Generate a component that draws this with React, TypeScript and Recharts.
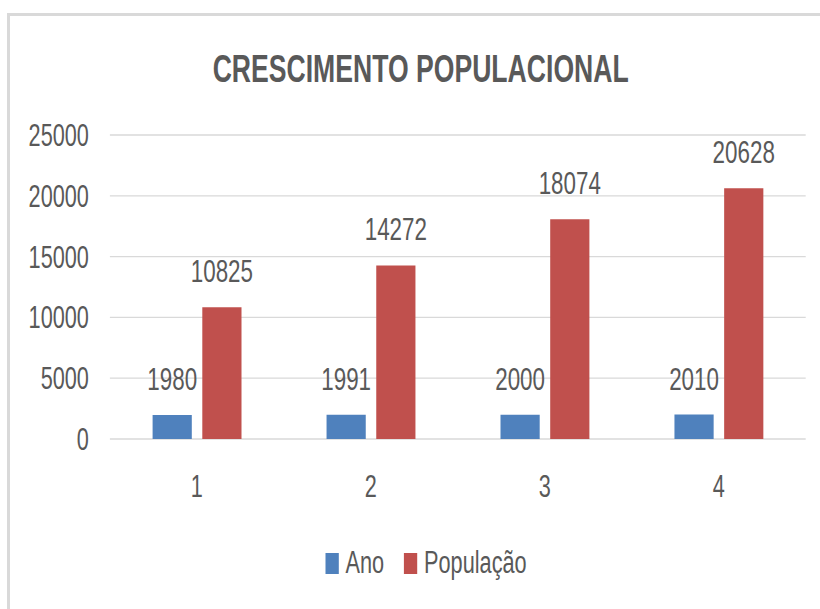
import { BarChart, Bar, XAxis, YAxis, CartesianGrid, Legend, LabelList } from "recharts"

const categorias = ["1", "2", "3", "4"]
const ano = [1980, 1991, 2000, 2010]
const populacao = [10825, 14272, 18074, 20628]
const yTicks = [0, 5000, 10000, 15000, 20000, 25000]

const COR_ANO = "#4F81BD"
const COR_POP = "#C0504D"
const TEXTO = "#595959"
const FONTE = "'Liberation Sans', Arial, sans-serif"

// the reference is squeezed sideways, so the chart is drawn wider and scaled back
const SQUEEZE = 0.7
const W = 1171
const H = 609

const data = categorias.map((c, i) => ({
  cat: c,
  Ano: ano[i],
  "População": populacao[i]
}))

function Legenda() {
  const items = [
    { name: "Ano", color: COR_ANO },
    { name: "População", color: COR_POP }
  ]
  return (
    <div
      style={{
        display: "flex",
        justifyContent: "center",
        paddingLeft: 46,
        height: 60,
        fontFamily: FONTE,
        fontSize: 31,
        color: TEXTO
      }}
    >
      {items.map((it, i) => (
        <div
          key={it.name}
          style={{ display: "flex", alignItems: "center", marginLeft: i ? 28 : 0, height: 28 }}
        >
          <span style={{ width: 19, height: 21, background: it.color, marginRight: 10, display: "inline-block" }} />
          <span>{it.name}</span>
        </div>
      ))}
    </div>
  )
}

export default function App() {
  return (
    <div style={{ position: "absolute", left: 0, top: 0, width: 820, height: H, background: "#fff", overflow: "hidden" }}>
      <div
        style={{
          position: "absolute",
          left: 7,
          top: 13,
          width: 830,
          height: 620,
          borderTop: "3px solid #d9d9d9",
          borderLeft: "3px solid #d9d9d9"
        }}
      />
      <div style={{ position: "absolute", left: 0, top: 0, transform: `scaleX(${SQUEEZE})`, transformOrigin: "0 0" }}>
        <BarChart
          width={W}
          height={H}
          data={data}
          margin={{ top: 135, right: 20, bottom: 0, left: 0 }}
          barCategoryGap={61}
          barGap={15}
        >
          <text
            x={601}
            y={82}
            textAnchor="middle"
            fontFamily={FONTE}
            fontSize={38}
            fontWeight="bold"
            fill={TEXTO}
          >
            CRESCIMENTO POPULACIONAL
          </text>
          <CartesianGrid vertical={false} stroke="#d9d9d9" strokeWidth={1.3} />
          <XAxis
            dataKey="cat"
            axisLine={false}
            tickLine={false}
            tickSize={0}
            tickMargin={36}
            height={110}
            tick={{ fill: TEXTO, fontSize: 31, fontFamily: FONTE }}
          />
          <YAxis
            domain={[0, 25000]}
            ticks={yTicks}
            axisLine={false}
            tickLine={false}
            tickSize={0}
            tickMargin={30}
            width={157}
            tick={{ fill: TEXTO, fontSize: 31, fontFamily: FONTE }}
          />
          <Legend
            verticalAlign="bottom"
            content={() => <Legenda />}
            wrapperStyle={{ left: 0, width: W, height: 60 }}
          />
          <Bar dataKey="Ano" fill={COR_ANO} isAnimationActive={false}>
            <LabelList dataKey="Ano" position="top" offset={25} fill={TEXTO} fontSize={32} fontFamily={FONTE} />
          </Bar>
          <Bar dataKey="População" fill={COR_POP} isAnimationActive={false}>
            <LabelList dataKey="População" position="top" offset={25} fill={TEXTO} fontSize={32} fontFamily={FONTE} />
          </Bar>
        </BarChart>
      </div>
    </div>
  )
}
